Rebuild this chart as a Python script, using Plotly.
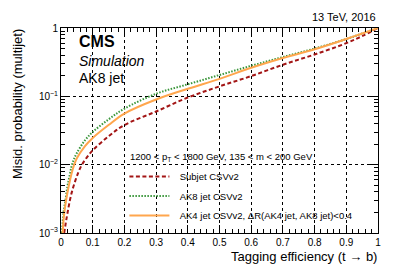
import plotly.graph_objects as go

# Tagging efficiency (t -> b) and misidentification probability (multijet)
eff_subjet = [0.01, 0.015, 0.02, 0.028, 0.035, 0.045, 0.055, 0.065, 0.08, 0.1, 0.15, 0.2, 0.3, 0.4, 0.5, 0.6, 0.7, 0.8, 0.9, 0.95, 1.0]
mis_subjet = [0.001, 0.0014, 0.0019, 0.003, 0.0041, 0.0058, 0.0078, 0.0098, 0.0125, 0.0162, 0.026, 0.038, 0.06, 0.096, 0.14, 0.198, 0.29, 0.41, 0.60, 0.76, 1.0]

eff_ak8 = [0.003, 0.008, 0.014, 0.02, 0.026, 0.033, 0.04, 0.05, 0.075, 0.1, 0.15, 0.2, 0.3, 0.4, 0.5, 0.6, 0.7, 0.8, 0.9, 0.95, 1.0]
mis_ak8 = [0.001, 0.002, 0.003, 0.0047, 0.0065, 0.0093, 0.0118, 0.0148, 0.0225, 0.030, 0.046, 0.066, 0.109, 0.15, 0.205, 0.28, 0.376, 0.50, 0.69, 0.83, 1.0]

eff_ak4 = [0.005, 0.01, 0.016, 0.025, 0.033, 0.041, 0.05, 0.075, 0.1, 0.15, 0.2, 0.3, 0.4, 0.5, 0.6, 0.7, 0.8, 0.9, 0.95, 1.0]
mis_ak4 = [0.001, 0.0019, 0.003, 0.005, 0.0073, 0.0098, 0.0124, 0.0185, 0.0246, 0.038, 0.056, 0.090, 0.129, 0.180, 0.262, 0.364, 0.488, 0.69, 0.83, 1.0]

series_names = ["Subjet CSVv2", "AK8 jet CSVv2", "AK4 jet CSVv2, \u0394R(AK4 jet, AK8 jet)<0.4"]
legend_header = "1200 < p<sub>T</sub> < 1800 GeV, 135 < m < 200 GeV"
x_tickvals = [0, 0.1, 0.2, 0.3, 0.4, 0.5, 0.6, 0.7, 0.8, 0.9, 1]
x_ticktext = ["0", "0.1", "0.2", "0.3", "0.4", "0.5", "0.6", "0.7", "0.8", "0.9", "1"]
y_tickvals = [0.001, 0.01, 0.1, 1]
y_ticktext = ["10<sup>\u22123</sup>", "10<sup>\u22122</sup>", "10<sup>\u22121</sup>", "1"]

FONT = "Liberation Sans, Arial, Helvetica, sans-serif"
PAD = "\u00a0\u00a0"

fig = go.Figure()
fig.add_trace(go.Scatter(x=eff_subjet, y=mis_subjet, mode="lines", name=PAD + series_names[0], legend="legend",
                         line=dict(color="#a31515", width=2, dash="4px,2.5px", shape="spline")))
fig.add_trace(go.Scatter(x=eff_ak8, y=mis_ak8, mode="lines", name=PAD + series_names[1], legend="legend2",
                         line=dict(color="#3a963a", width=2, dash="1.5px,1.5px", shape="spline")))
fig.add_trace(go.Scatter(x=eff_ak4, y=mis_ak4, mode="lines", name=PAD + series_names[2], legend="legend3",
                         line=dict(color="#ffa64d", width=2, shape="spline")))

axis_common = dict(
    showline=True, linecolor="black", linewidth=1, mirror="allticks",
    ticks="inside", ticklen=8, tickcolor="black",
    showgrid=True, gridcolor="black", griddash="dot", gridwidth=1,
    zeroline=False, automargin=False,
    tickfont=dict(family=FONT, size=10, color="black"),
)

fig.update_xaxes(range=[0, 1], tickmode="array", tickvals=x_tickvals, ticktext=x_ticktext,
                 minor=dict(ticks="inside", ticklen=4, dtick=0.02, tickcolor="black", showgrid=False),
                 **axis_common)
fig.update_yaxes(type="log", range=[-3, 0], tickmode="array", tickvals=y_tickvals, ticktext=y_ticktext,
                 minor=dict(ticks="inside", ticklen=4, dtick="D1", tickcolor="black", showgrid=False),
                 **axis_common)

W, H = 407, 274
l, r, t, b = 61, 29, 28, 41
pw, ph = W - l - r, H - t - b
def px(xp):
    return (xp - l) / pw
def py(yp):
    return 1 - (yp - t) / ph

def leg(ypix):
    return dict(x=0.2, y=py(ypix), xanchor="left", yanchor="middle",
                bgcolor="rgba(0,0,0,0)", borderwidth=0,
                font=dict(family=FONT, size=9.5, color="black"), itemwidth=40)

fig.update_layout(
    width=W, height=H,
    margin=dict(l=l, r=r, t=t, b=b),
    paper_bgcolor="white", plot_bgcolor="white",
    font=dict(family=FONT, color="black"),
    showlegend=True,
    legend=leg(176.5),
    legend2=leg(196),
    legend3=leg(215.5),
)

fig.add_annotation(text=legend_header, x=px(127.5), y=py(157), xref="paper", yref="paper", xanchor="left", yanchor="middle",
                   showarrow=False, font=dict(family=FONT, size=9.5, color="black"))
fig.add_annotation(text="<b>CMS</b>", x=px(77), y=py(41), xref="paper", yref="paper", xanchor="left", yanchor="middle",
                   showarrow=False, font=dict(family=FONT, size=16, color="black"))
fig.add_annotation(text="<i>Simulation</i>", x=px(77), y=py(61), xref="paper", yref="paper", xanchor="left", yanchor="middle",
                   showarrow=False, font=dict(family=FONT, size=14, color="black"))
fig.add_annotation(text="AK8 jet", x=px(77), y=py(78), xref="paper", yref="paper", xanchor="left", yanchor="middle",
                   showarrow=False, font=dict(family=FONT, size=14, color="black"))
fig.add_annotation(text="13 TeV, 2016", x=px(378), y=py(17), xref="paper", yref="paper", xanchor="right", yanchor="middle",
                   showarrow=False, font=dict(family=FONT, size=11, color="black"))
fig.add_annotation(text="Tagging efficiency (t \u2192 b)", x=px(379), y=py(256), xref="paper", yref="paper",
                   xanchor="right", yanchor="middle", showarrow=False, font=dict(family=FONT, size=13, color="black"))
fig.add_annotation(text="Misid. probability (multijet)", x=px(17), y=py(27), xref="paper", yref="paper",
                   xanchor="center", yanchor="top", textangle=-90, showarrow=False,
                   font=dict(family=FONT, size=13, color="black"))

fig.write_html("out.html", config={"displayModeBar": False},
               post_script="document.body.style.margin='0';")
